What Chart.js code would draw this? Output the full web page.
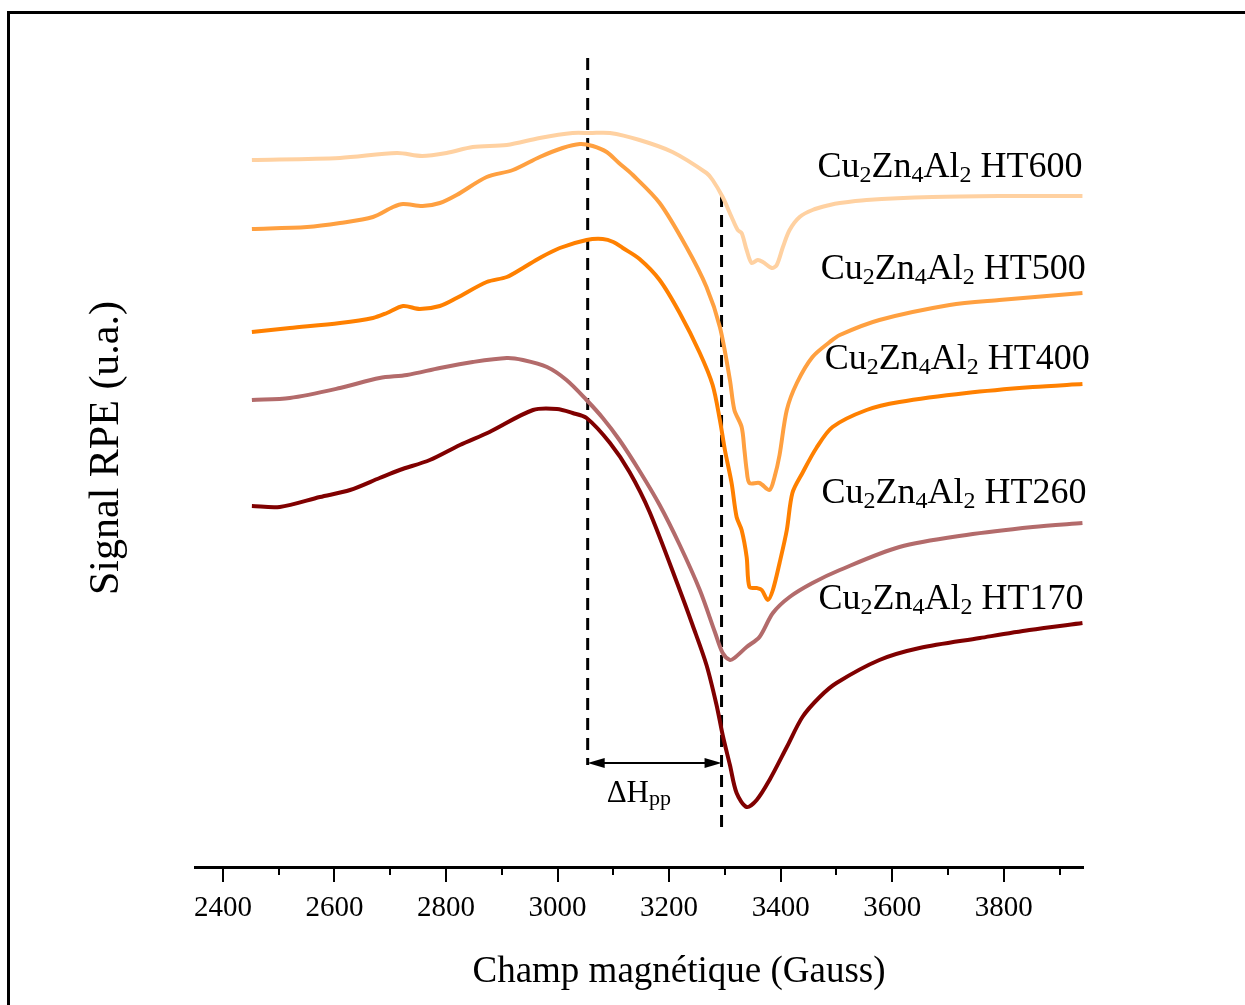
<!DOCTYPE html>
<html>
<head>
<meta charset="utf-8">
<script src="https://cdn.jsdelivr.net/npm/chart.js@4.4.1/dist/chart.umd.min.js"></script>
<style>
  html, body { margin: 0; padding: 0; background: #fff; overflow: hidden; }
  #wrap { position: relative; width: 1245px; height: 1005px; }
  #frame { position: absolute; left: 7px; top: 11px; width: 1400px; height: 1100px;
           border-top: 3px solid #000; border-left: 3px solid #000; }
  canvas { position: absolute; left: 0; top: 0; }
</style>
</head>
<body>
<div id="wrap">
  <div id="frame"></div>
  <canvas id="epr" width="1245" height="1005"></canvas>
</div>
<script>
// champ magnétique (G) / signal (u.a.)
const fieldHT600 = [2452, 2610, 2712, 2757, 2801, 2848, 2909, 2968, 3027, 3058, 3094, 3147, 3206, 3267, 3278, 3296, 3312, 3323, 3330, 3339, 3348, 3359, 3368, 3384, 3393, 3404, 3416, 3434, 3457, 3488, 3506, 3554, 3672, 3792, 3941];
const signalHT600 = [707, 709, 714, 711, 714, 720, 722, 729, 734, 734, 734, 727, 715, 694, 687, 670, 650, 637, 634, 617, 604, 607, 605, 599, 602, 620, 637, 650, 657, 662, 664, 667, 670, 671, 671];

const fieldHT500 = [2452, 2551, 2610, 2669, 2705, 2723, 2758, 2789, 2819, 2873, 2920, 2968, 3009, 3040, 3063, 3088, 3110, 3135, 3183, 3231, 3267, 3291, 3309, 3317, 3330, 3335, 3339, 3344, 3362, 3380, 3389, 3398, 3411, 3429, 3457, 3488, 3506, 3577, 3703, 3792, 3941];
const signalHT500 = [638, 640, 644, 650, 660, 663, 661, 664, 672, 690, 697, 710, 719, 723, 721, 715, 704, 692, 664, 620, 580, 540, 487, 457, 440, 417, 397, 384, 384, 377, 390, 412, 457, 484, 510, 525, 532, 547, 562, 567, 574];

const fieldHT400 = [2452, 2520, 2610, 2669, 2694, 2723, 2753, 2789, 2819, 2873, 2909, 2938, 2968, 3004, 3052, 3081, 3100, 3117, 3147, 3183, 3219, 3255, 3278, 3291, 3300, 3312, 3321, 3330, 3339, 3344, 3357, 3366, 3377, 3386, 3398, 3411, 3421, 3439, 3464, 3493, 3554, 3613, 3733, 3852, 3941];
const signalHT400 = [535, 539, 544, 549, 554, 561, 558, 561, 569, 585, 590, 599, 609, 619, 627, 628, 625, 619, 608, 587, 554, 514, 482, 447, 417, 384, 350, 337, 310, 280, 279, 277, 267, 277, 304, 337, 374, 394, 419, 440, 457, 465, 474, 480, 483];

const fieldHT260 = [2452, 2520, 2610, 2681, 2730, 2789, 2848, 2909, 2938, 2981, 3016, 3052, 3081, 3111, 3147, 3183, 3219, 3255, 3282, 3296, 3309, 3317, 3339, 3362, 3386, 3416, 3457, 3506, 3613, 3733, 3852, 3941];
const signalHT260 = [467, 469, 479, 489, 492, 499, 505, 509, 507, 500, 487, 467, 449, 427, 396, 362, 322, 277, 235, 214, 207, 209, 220, 230, 254, 270, 284, 297, 320, 332, 340, 344];

const fieldHT170 = [2452, 2502, 2574, 2628, 2681, 2717, 2771, 2825, 2878, 2956, 2999, 3027, 3052, 3094, 3129, 3165, 3219, 3242, 3267, 3285, 3296, 3309, 3321, 3339, 3357, 3380, 3411, 3439, 3470, 3500, 3577, 3649, 3757, 3846, 3941];
const signalHT170 = [361, 360, 370, 377, 389, 397, 407, 422, 435, 457, 458, 454, 449, 424, 395, 355, 277, 242, 202, 162, 132, 102, 74, 60, 67, 87, 120, 150, 170, 184, 207, 219, 229, 237, 244];

// delta Hpp markers
const peakField = [3054, 3054];
const peakSignal = [809, 102];
const troughField = [3294, 3294];
const troughSignal = [672, 37];
const arrowSignal = 104;

const samples = ["HT600", "HT500", "HT400", "HT260", "HT170"];
const majorTicks = [2400, 2600, 2800, 3000, 3200, 3400, 3600, 3800];
const minorTicks = [2500, 2700, 2900, 3100, 3300, 3500, 3700, 3900];

const serif = "'Liberation Serif', 'Times New Roman', serif";

function pts(xs, ys) {
    return xs.map((x, i) => ({ x: x, y: ys[i] }));
}

function curve(label, xs, ys, color) {
    return {
        label: label,
        data: pts(xs, ys),
        borderColor: color,
        borderWidth: 4,
        pointRadius: 0,
        tension: 0.3,
        fill: false
    };
}

function marker(xs, ys) {
    return {
        label: "",
        data: pts(xs, ys),
        borderColor: "#000",
        borderWidth: 3,
        borderDash: [12, 8],
        pointRadius: 0,
        fill: false
    };
}

// writes Cu2Zn4Al2 HTxxx with subscripts, left aligned at (x, y) baseline
function drawFormula(ctx, x, y, sample) {
    const parts = [["Cu", 0], ["2", 1], ["Zn", 0], ["4", 1], ["Al", 0], ["2", 1], [" " + sample, 0]];
    ctx.textAlign = "left";
    ctx.textBaseline = "alphabetic";
    parts.forEach(p => {
        ctx.font = p[1] ? "24px " + serif : "36px " + serif;
        ctx.fillText(p[0], x, y + (p[1] ? 5 : 0));
        x += ctx.measureText(p[0]).width;
    });
}

const labelPos = [[3466, 690], [3472, 588], [3479, 498], [3473, 364], [3468, 258]];

const extras = {
    id: "extras",
    afterDraw(chart) {
        const ctx = chart.ctx;
        const xs = chart.scales.x;
        const ys = chart.scales.y;
        const base = ys.getPixelForValue(0);
        ctx.save();
        ctx.fillStyle = "#000";
        ctx.strokeStyle = "#000";

        // axis ticks
        ctx.lineWidth = 2;
        majorTicks.forEach(v => {
            const px = Math.round(xs.getPixelForValue(v));
            ctx.beginPath(); ctx.moveTo(px, base); ctx.lineTo(px, base + 15); ctx.stroke();
        });
        minorTicks.forEach(v => {
            const px = Math.round(xs.getPixelForValue(v));
            ctx.beginPath(); ctx.moveTo(px, base); ctx.lineTo(px, base + 8); ctx.stroke();
        });

        // arrow for delta Hpp
        const ax1 = xs.getPixelForValue(peakField[0]);
        const ax2 = xs.getPixelForValue(troughField[0]);
        const ay = ys.getPixelForValue(arrowSignal);
        ctx.lineWidth = 2;
        ctx.beginPath(); ctx.moveTo(ax1 + 10, ay); ctx.lineTo(ax2 - 10, ay); ctx.stroke();
        ctx.beginPath(); ctx.moveTo(ax1, ay); ctx.lineTo(ax1 + 17, ay - 5); ctx.lineTo(ax1 + 17, ay + 5); ctx.closePath(); ctx.fill();
        ctx.beginPath(); ctx.moveTo(ax2, ay); ctx.lineTo(ax2 - 17, ay - 5); ctx.lineTo(ax2 - 17, ay + 5); ctx.closePath(); ctx.fill();

        ctx.textAlign = "left";
        ctx.textBaseline = "alphabetic";
        ctx.font = "31px " + serif;
        const tx = ax1 + 19;
        ctx.fillText("ΔH", tx, ay + 39);
        const w = ctx.measureText("ΔH").width;
        ctx.font = "22px " + serif;
        ctx.fillText("pp", tx + w, ay + 42);

        // sample labels
        samples.forEach((s, i) => {
            drawFormula(ctx, xs.getPixelForValue(labelPos[i][0]), ys.getPixelForValue(labelPos[i][1]), s);
        });

        // axis titles
        ctx.font = "37px " + serif;
        ctx.textAlign = "center";
        ctx.textBaseline = "middle";
        ctx.fillText("Champ magnétique (Gauss)", 679, 972);

        ctx.translate(107, 448);
        ctx.rotate(-Math.PI / 2);
        ctx.font = "42px " + serif;
        ctx.fillText("Signal RPE (u.a.)", 0, 0);
        ctx.restore();
    }
};

new Chart(document.getElementById("epr").getContext("2d"), {
    type: "line",
    data: {
        datasets: [
            curve("HT600", fieldHT600, signalHT600, "#FFD1A1"),
            curve("HT500", fieldHT500, signalHT500, "#FFA040"),
            curve("HT400", fieldHT400, signalHT400, "#FF8000"),
            curve("HT260", fieldHT260, signalHT260, "#B36B6B"),
            curve("HT170", fieldHT170, signalHT170, "#800000"),
            marker(peakField, peakSignal),
            marker(troughField, troughSignal)
        ]
    },
    options: {
        responsive: false,
        animation: false,
        devicePixelRatio: 1,
        layout: { padding: { left: 195, right: 162, top: 40, bottom: 0 } },
        plugins: { legend: { display: false }, tooltip: { enabled: false } },
        scales: {
            x: {
                type: "linear",
                min: 2350,
                max: 3942,
                afterBuildTicks: scale => { scale.ticks = majorTicks.map(v => ({ value: v })); },
                afterFit: scale => { scale.height = 138; },
                grid: { display: false, drawTicks: false },
                border: { display: true, color: "#000", width: 3 },
                ticks: {
                    padding: 24,
                    color: "#000",
                    maxRotation: 0,
                    callback: v => String(v),
                    font: { family: serif, size: 29 }
                }
            },
            y: {
                display: false,
                min: 0,
                max: 827
            }
        }
    },
    plugins: [extras]
});
</script>
</body>
</html>
